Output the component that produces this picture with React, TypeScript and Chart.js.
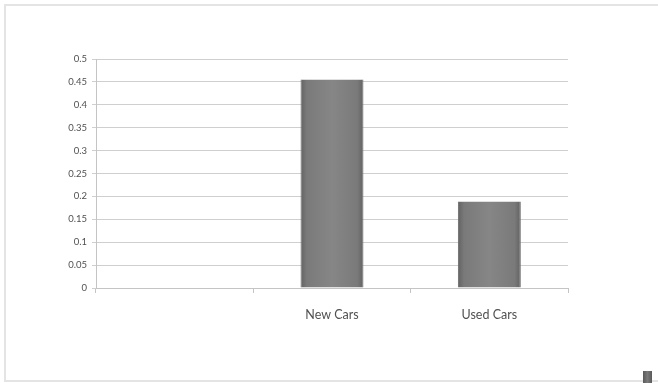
import React, { useEffect, useRef } from "react";
import { Chart, registerables } from "chart.js";

Chart.register(...registerables);

// Share of purchases by vehicle type
const categories: string[] = ["", "New Cars", "Used Cars"];
const shares: (number | null)[] = [null, 0.455, 0.189];
const yTicks: number[] = [0, 0.05, 0.1, 0.15, 0.2, 0.25, 0.3, 0.35, 0.4, 0.45, 0.5];

const FONT = "Lato, 'Open Sans', sans-serif";
const FRAME = "#e4e4e4";

export default function App() {
  const canvasRef = useRef<HTMLCanvasElement | null>(null);

  useEffect(() => {
    document.body.style.margin = "0";
    const canvas = canvasRef.current;
    if (!canvas) return;

    // Bars are shaded darker at the sides, lighter in the middle
    const barFill = (ctx: any) => {
      const chart = ctx.chart;
      const xScale = chart.scales?.x;
      if (!xScale || ctx.dataIndex === undefined) return "#808080";
      const cx = xScale.getPixelForValue(ctx.dataIndex);
      const w = (xScale.width / categories.length) * 0.4;
      if (!Number.isFinite(cx) || !Number.isFinite(w) || w <= 0) return "#808080";
      const g = chart.ctx.createLinearGradient(cx - w / 2, 0, cx + w / 2, 0);
      g.addColorStop(0, "#626262");
      g.addColorStop(0.1, "#7a7a7a");
      g.addColorStop(0.5, "#868686");
      g.addColorStop(0.9, "#7a7a7a");
      g.addColorStop(1, "#626262");
      return g;
    };

    const chart = new Chart(canvas, {
      type: "bar",
      data: {
        labels: categories,
        datasets: [
          {
            data: shares,
            backgroundColor: barFill,
            borderColor: "#666666",
            borderWidth: { top: 0, left: 1, right: 1, bottom: 0 },
            barPercentage: 0.4,
            categoryPercentage: 1,
          },
        ],
      },
      options: {
        animation: false,
        responsive: false,
        maintainAspectRatio: false,
        layout: { padding: { left: 0, top: 59, right: 90, bottom: 0 } },
        plugins: {
          legend: { display: false },
          tooltip: { enabled: false },
        },
        scales: {
          x: {
            grid: {
              offset: true,
              drawOnChartArea: false,
              drawTicks: true,
              tickLength: 5,
              color: "#c4c4c4",
            },
            border: { display: true, color: "#c4c4c4" },
            ticks: {
              color: "#505050",
              font: { family: FONT, size: 12.5 },
              padding: 14,
              maxRotation: 0,
            },
            afterFit: (scale: any) => {
              scale.height = 95;
            },
          },
          y: {
            min: 0,
            max: 0.5,
            afterBuildTicks: (scale: any) => {
              scale.ticks = yTicks.map((v) => ({ value: v }));
            },
            grid: {
              color: "#cfcfcf",
              tickLength: 4,
              drawTicks: true,
            },
            border: { display: true, color: "#c4c4c4" },
            ticks: {
              color: "#505050",
              font: { family: FONT, size: 9.5 },
              padding: 5,
              callback: (v: any) => String(Number(v)),
            },
            afterFit: (scale: any) => {
              scale.width = 96;
            },
          },
        },
      },
    });

    return () => chart.destroy();
  }, []);

  return (
    <div style={{ position: "relative", width: 658, height: 383, background: "#ffffff", overflow: "hidden" }}>
      {/* frame: top, left and bottom edges only */}
      <div style={{ position: "absolute", left: 4, top: 4, width: 654, height: 2, background: FRAME }} />
      <div style={{ position: "absolute", left: 4, top: 4, width: 2, height: 378, background: FRAME }} />
      <div style={{ position: "absolute", left: 4, top: 380, width: 654, height: 2, background: FRAME }} />
      <canvas ref={canvasRef} width={658} height={383} style={{ position: "absolute", left: 0, top: 0 }} />
      <div
        style={{
          position: "absolute",
          left: 643,
          top: 371,
          width: 9,
          height: 12,
          background: "linear-gradient(90deg, #5a5a5a, #7a7a7a 50%, #5a5a5a)",
        }}
      />
    </div>
  );
}
